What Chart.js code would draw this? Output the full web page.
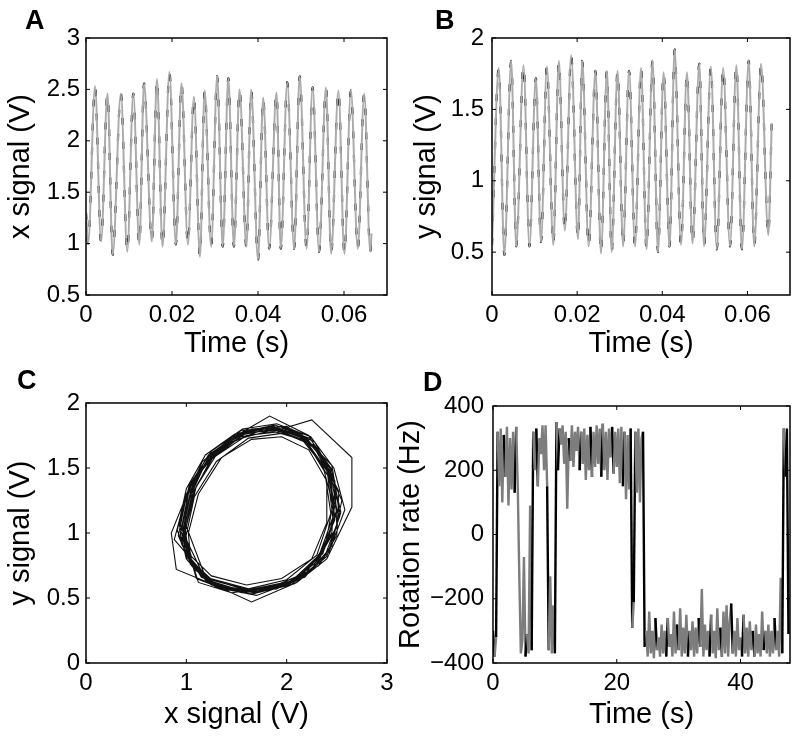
<!DOCTYPE html>
<html>
<head>
<meta charset="utf-8">
<script src="https://cdn.jsdelivr.net/npm/chart.js@4.4.1/dist/chart.umd.min.js"></script>
<style>
  body { margin: 0; background: #fff; }
  #wrap { position: relative; width: 800px; height: 739px; overflow: hidden; }
  canvas { position: absolute; }
  .tag { position: absolute; font: bold 27px "Liberation Sans", Arial, sans-serif; line-height: 27px; color: #000; }
</style>
</head>
<body>
<div id="wrap">
  <canvas id="panelA" width="400" height="365" style="left:0;top:0"></canvas>
  <canvas id="panelB" width="400" height="365" style="left:400px;top:0"></canvas>
  <canvas id="panelC" width="400" height="369" style="left:0;top:370px"></canvas>
  <canvas id="panelD" width="410" height="369" style="left:390px;top:370px"></canvas>
  <div class="tag" style="left:25px;top:7px">A</div>
  <div class="tag" style="left:435px;top:7px">B</div>
  <div class="tag" style="left:17px;top:367px">C</div>
  <div class="tag" style="left:423px;top:369px">D</div>
</div>
<script>
// A: x signal vs time (turning points)
var aTime = [0, 0.0005, 0.0021, 0.0035, 0.0050, 0.0062, 0.0081, 0.0096, 0.0110, 0.0124, 0.0135, 0.0153,
    0.0165, 0.0178, 0.0194, 0.0209, 0.0222, 0.0237, 0.0251, 0.0265, 0.0276, 0.0291, 0.0305, 0.0318,
    0.0331, 0.0344, 0.0357, 0.0373, 0.0384, 0.0400, 0.0412, 0.0426, 0.0443, 0.0453, 0.0468, 0.0484,
    0.0497, 0.0513, 0.0527, 0.0542, 0.0558, 0.0570, 0.0587, 0.0601, 0.0616, 0.0632, 0.0647, 0.0661, 0.0664];
var aValue = [1.30, 1.00, 2.53, 1.02, 2.46, 0.89, 2.46, 0.92, 2.46, 0.99, 2.56, 1.02,
    2.60, 0.97, 2.67, 0.99, 2.56, 0.99, 2.43, 0.87, 2.49, 0.97, 2.63, 0.97,
    2.61, 0.97, 2.50, 0.97, 2.50, 0.84, 2.42, 0.95, 2.47, 0.95, 2.57, 0.95,
    2.63, 0.95, 2.52, 0.92, 2.52, 0.90, 2.49, 0.90, 2.49, 0.95, 2.46, 0.92, 1.10];

// B: y signal vs time
var bTime = [0, 0.0016, 0.0029, 0.0045, 0.0057, 0.0074, 0.0088, 0.0103, 0.0115, 0.0129, 0.0144, 0.0157,
    0.0171, 0.0186, 0.0202, 0.0212, 0.0227, 0.0243, 0.0256, 0.0270, 0.0281, 0.0295, 0.0308, 0.0322,
    0.0336, 0.0350, 0.0363, 0.0377, 0.0390, 0.0403, 0.0417, 0.0429, 0.0444, 0.0458, 0.0471, 0.0487,
    0.0498, 0.0514, 0.0528, 0.0543, 0.0559, 0.0574, 0.0587, 0.0603, 0.0616, 0.0632, 0.0649, 0.0657];
var bValue = [0.55, 1.79, 0.48, 1.84, 0.54, 1.81, 0.54, 1.72, 0.57, 1.80, 0.55, 1.84,
    0.65, 1.88, 0.59, 1.84, 0.54, 1.77, 0.49, 1.77, 0.50, 1.77, 0.54, 1.77,
    0.54, 1.79, 0.52, 1.84, 0.50, 1.76, 0.54, 1.92, 0.55, 1.76, 0.56, 1.82,
    0.54, 1.80, 0.52, 1.79, 0.54, 1.81, 0.52, 1.84, 0.54, 1.82, 0.62, 1.40];

// C: y signal against x signal, one sample trajectory looping round
var loopX = [0.95, 1.03, 1.22, 1.52, 1.83, 2.22, 2.42, 2.48, 2.33, 2.02, 1.65, 1.25,
    0.88, 1.00, 1.20, 1.50, 1.90, 2.20, 2.45, 2.52, 2.35, 2.05, 1.60, 1.18,
    0.98, 1.08, 1.28, 1.60, 1.95, 2.25, 2.65, 2.65, 2.40, 2.10, 1.65, 1.28,
    0.90, 0.85, 1.05, 1.30, 1.62, 1.95, 2.28, 2.48, 2.50, 2.30, 1.98, 1.58, 1.20,
    1.00, 1.10, 1.30, 1.58, 1.88, 2.15, 2.38, 2.55, 2.45, 2.18, 1.75, 1.35, 1.08,
    0.95, 1.02, 1.18, 1.45, 1.78, 2.10, 2.35, 2.50, 2.42, 2.20, 1.85, 1.45, 1.12,
    0.93, 1.06, 1.32, 1.65, 2.00, 2.30, 2.48, 2.45, 2.25, 1.90, 1.52, 1.15,
    0.98, 1.00, 1.15, 1.40, 1.72, 2.05, 2.32, 2.52, 2.50, 2.32, 2.00, 1.60, 1.25, 1.05,
    1.02, 1.12, 1.35, 1.65, 1.95, 2.22, 2.40, 2.40, 2.25, 1.95, 1.60, 1.25, 1.05,
    0.96, 1.04, 1.26, 1.56, 1.90, 2.24, 2.47, 2.58, 2.42, 2.12, 1.70, 1.30, 1.05,
    0.92, 1.00, 1.16, 1.46, 1.82, 2.12, 2.36, 2.46, 2.38, 2.15, 1.80, 1.40, 1.10,
    0.99, 1.08, 1.30, 1.62, 1.98, 2.26, 2.44, 2.48, 2.30, 1.98, 1.55, 1.20, 1.00,
    0.94, 1.02, 1.22, 1.52, 1.86, 2.16, 2.40, 2.50, 2.36, 2.06, 1.66, 1.26, 1.04,
    0.97, 1.06, 1.27, 1.57, 1.92, 2.20, 2.42, 2.47, 2.32, 2.03, 1.63, 1.24, 1.02,
    0.91, 1.00, 1.19, 1.48, 1.84, 2.18, 2.44, 2.54, 2.40, 2.08, 1.68, 1.28, 1.06,
    0.96, 1.05, 1.24, 1.54, 1.88, 2.19, 2.38, 2.44, 2.30, 2.00, 1.62, 1.24, 1.03,
    0.93, 1.03, 1.25, 1.55, 1.91, 2.23, 2.46, 2.53, 2.37, 2.04, 1.64, 1.26, 1.04,
    0.99, 1.07, 1.29, 1.60, 1.93, 2.21, 2.41, 2.46, 2.31, 2.01, 1.60, 1.22, 1.01,
    0.94, 1.04, 1.23, 1.53, 1.87, 2.20, 2.43, 2.50, 2.35, 2.05, 1.67, 1.27, 1.05, 0.97];
var loopY = [1.02, 1.35, 1.60, 1.76, 1.90, 1.75, 1.48, 1.12, 0.80, 0.60, 0.53, 0.62,
    0.95, 1.30, 1.55, 1.72, 1.80, 1.72, 1.52, 1.20, 0.85, 0.63, 0.56, 0.66,
    0.98, 1.33, 1.60, 1.77, 1.80, 1.87, 1.58, 1.20, 0.80, 0.62, 0.47, 0.60,
    0.72, 1.00, 1.38, 1.62, 1.78, 1.82, 1.70, 1.40, 1.05, 0.78, 0.60, 0.55, 0.64,
    1.05, 1.36, 1.63, 1.78, 1.83, 1.76, 1.55, 1.25, 0.90, 0.66, 0.55, 0.57, 0.72,
    0.92, 1.25, 1.52, 1.70, 1.80, 1.78, 1.60, 1.30, 0.95, 0.70, 0.58, 0.54, 0.62,
    1.10, 1.40, 1.65, 1.80, 1.82, 1.65, 1.35, 1.00, 0.72, 0.57, 0.55, 0.66,
    0.88, 1.20, 1.50, 1.68, 1.78, 1.80, 1.62, 1.32, 0.98, 0.75, 0.60, 0.55, 0.60, 0.75,
    1.00, 1.30, 1.58, 1.72, 1.74, 1.64, 1.40, 1.08, 0.80, 0.65, 0.60, 0.67, 0.82,
    1.05, 1.38, 1.64, 1.80, 1.84, 1.74, 1.50, 1.18, 0.85, 0.64, 0.52, 0.58, 0.75,
    0.98, 1.28, 1.55, 1.74, 1.82, 1.75, 1.52, 1.22, 0.88, 0.68, 0.57, 0.56, 0.65,
    0.95, 1.28, 1.55, 1.73, 1.77, 1.68, 1.42, 1.10, 0.78, 0.59, 0.54, 0.63, 0.80,
    1.00, 1.30, 1.58, 1.75, 1.80, 1.72, 1.48, 1.16, 0.84, 0.63, 0.55, 0.61, 0.78,
    1.04, 1.36, 1.62, 1.77, 1.79, 1.70, 1.46, 1.14, 0.82, 0.62, 0.56, 0.64, 0.80,
    1.02, 1.34, 1.60, 1.76, 1.81, 1.74, 1.50, 1.16, 0.82, 0.61, 0.54, 0.59, 0.74,
    0.96, 1.28, 1.56, 1.74, 1.78, 1.71, 1.47, 1.15, 0.83, 0.64, 0.57, 0.65, 0.80,
    1.06, 1.37, 1.63, 1.79, 1.81, 1.73, 1.48, 1.13, 0.80, 0.60, 0.53, 0.60, 0.76,
    1.02, 1.32, 1.59, 1.75, 1.78, 1.69, 1.44, 1.12, 0.80, 0.61, 0.55, 0.62, 0.79,
    0.99, 1.31, 1.59, 1.77, 1.82, 1.73, 1.50, 1.18, 0.84, 0.62, 0.54, 0.60, 0.76, 0.98];

// D: rotation rate (Hz), one reading every 0.25 s from t = 0
var rateStep = 0.25;
var rateValue = [-300, -380, -320, 320, 150, 330, 100, 310, 180, 335, 90, 300,
    140, 320, 130, 335, 150, -130, -370, -330, -70, -380, -310, -370,
    90, -360, 320, 200, 330, 150, 300, 250, 340, 200, 340, 150,
    -360, -130, -370, -220, -370, 350, 200, 330, 280, 340, 220, 320,
    80, 300, 230, 340, 210, 320, 260, 335, 200, 320, 220, 330,
    170, 310, 200, 335, 180, 320, 210, 340, 220, 330, 180, 345,
    200, 320, 170, 330, 240, 335, 190, 320, 210, 330, 160, 335,
    150, 320, 110, 310, 140, 330, -290, -210, 320, 130, 330, 100,
    300, 320, -350, -300, -380, -240, -370, -300, -385, -260, -360, -320,
    -380, -280, -370, -300, -380, -260, -350, -310, -380, -240, -370, -280,
    -360, -230, -380, -290, -370, -250, -380, -300, -360, -270, -380, -290,
    -370, -260, -350, -170, -380, -280, -360, -300, -380, -250, -370, -300,
    -385, -230, -360, -290, -380, -240, -370, -220, -380, -270, -215, -370,
    -300, -380, -260, -360, -320, -380, -250, -370, -290, -380, -270, -360,
    -300, -380, -280, -370, -310, -380, -240, -360, -300, -370, -280, -380,
    -300, -370, -260, -360, -300, -380, -135, -370, 330, 180, 330, -310];

// tick labels
var aTimeTicks = [0, 0.02, 0.04, 0.06];
var aSignalTicks = [0.5, 1, 1.5, 2, 2.5, 3];
var bSignalTicks = [0.5, 1, 1.5, 2];
var cTicksX = [0, 1, 2, 3];
var cTicksY = [0, 0.5, 1, 1.5, 2];
var dTimeTicks = [0, 20, 40];
var dRateTicks = [-400, -200, 0, 200, 400];

var fontFamily = '"Liberation Sans", Arial, sans-serif';

// box round the plot with inward ticks on all four sides, like the original
var boxFrame = {
    id: 'boxFrame',
    afterDraw: function(chart) {
        var ctx = chart.ctx, a = chart.chartArea;
        var xs = chart.scales.x, ys = chart.scales.y;
        ctx.save();
        ctx.strokeStyle = '#000';
        ctx.lineWidth = 1.5;
        ctx.strokeRect(a.left, a.top, a.right - a.left, a.bottom - a.top);
        ctx.lineWidth = 1;
        ctx.beginPath();
        xs.ticks.forEach(function(t) {
            var px = xs.getPixelForValue(t.value);
            ctx.moveTo(px, a.bottom); ctx.lineTo(px, a.bottom - 4);
            ctx.moveTo(px, a.top); ctx.lineTo(px, a.top + 4);
        });
        ys.ticks.forEach(function(t) {
            var py = ys.getPixelForValue(t.value);
            ctx.moveTo(a.left, py); ctx.lineTo(a.left + 4, py);
            ctx.moveTo(a.right, py); ctx.lineTo(a.right - 4, py);
        });
        ctx.stroke();
        ctx.restore();
    }
};

function fmt(v) {
    return String(v).replace('-', '\u2212');
}

function axis(min, max, ticks, title, fitSize, horizontal, titlePad, tickPad) {
    return {
        type: 'linear',
        min: min,
        max: max,
        grid: { display: false, drawTicks: false },
        border: { display: false },
        afterBuildTicks: function(s) { s.ticks = ticks.map(function(v) { return { value: v }; }); },
        afterFit: function(s) { if (horizontal) { s.height = fitSize; } else { s.width = fitSize; } },
        ticks: {
            color: '#000',
            font: { family: fontFamily, size: 24 },
            padding: tickPad,
            maxRotation: 0,
            autoSkip: false,
            callback: function(v) { return fmt(v); }
        },
        title: {
            display: true,
            text: title,
            color: '#000',
            font: { family: fontFamily, size: 29 },
            padding: horizontal ? { top: 0, bottom: titlePad } : { top: titlePad, bottom: 0 }
        }
    };
}

function baseOptions(pad, xAxis, yAxis) {
    return {
        responsive: false,
        animation: false,
        layout: { padding: pad },
        plugins: { legend: { display: false }, tooltip: { enabled: false } },
        scales: { x: xAxis, y: yAxis }
    };
}

function pairs(xs, ys) {
    return xs.map(function(x, i) { return { x: x, y: ys[i] }; });
}

// A
new Chart(document.getElementById('panelA').getContext('2d'), {
    type: 'line',
    data: {
        datasets: [{
            data: pairs(aTime, aValue),
            borderColor: '#ababab', borderWidth: 2, pointRadius: 0, cubicInterpolationMode: 'monotone'
        }, {
            data: pairs(aTime, aValue),
            borderColor: '#000', borderWidth: 2.2, pointRadius: 0, cubicInterpolationMode: 'monotone',
            borderDash: [7, 17]
        }]
    },
    options: baseOptions({ top: 38, right: 13, left: 0, bottom: 0 },
        axis(0, 0.07, aTimeTicks, 'Time (s)', 70, true, 4, 6),
        axis(0.5, 3, aSignalTicks, 'x signal (V)', 86, false, 4, 6)),
    plugins: [boxFrame]
});

// B
new Chart(document.getElementById('panelB').getContext('2d'), {
    type: 'line',
    data: {
        datasets: [{
            data: pairs(bTime, bValue),
            borderColor: '#ababab', borderWidth: 2, pointRadius: 0, cubicInterpolationMode: 'monotone'
        }, {
            data: pairs(bTime, bValue),
            borderColor: '#000', borderWidth: 2.2, pointRadius: 0, cubicInterpolationMode: 'monotone',
            borderDash: [7, 17]
        }]
    },
    options: baseOptions({ top: 38, right: 10, left: 0, bottom: 0 },
        axis(0, 0.07, aTimeTicks, 'Time (s)', 70, true, 4, 6),
        axis(0.2, 2, bSignalTicks, 'y signal (V)', 92, false, 10, 8)),
    plugins: [boxFrame]
});

// C
new Chart(document.getElementById('panelC').getContext('2d'), {
    type: 'line',
    data: {
        datasets: [{
            data: pairs(loopX, loopY),
            borderColor: '#111', borderWidth: 1.1, pointRadius: 0, tension: 0
        }]
    },
    options: baseOptions({ top: 33, right: 13, left: 0, bottom: 0 },
        axis(0, 3, cTicksX, 'x signal (V)', 76, true, 7, 6),
        axis(0, 2, cTicksY, 'y signal (V)', 86, false, 4, 6)),
    plugins: [boxFrame]
});

// D
new Chart(document.getElementById('panelD').getContext('2d'), {
    type: 'line',
    data: {
        datasets: [{
            data: rateValue.map(function(v, i) { return { x: i * rateStep, y: v }; }),
            borderWidth: 2.4, pointRadius: 0, tension: 0,
            borderColor: '#7d7d7d',
            segment: {
                borderColor: function(c) {
                    var jump = Math.abs(c.p1.parsed.y - c.p0.parsed.y);
                    return (jump > 500 || c.p0DataIndex % 7 === 0) ? '#000' : '#7d7d7d';
                }
            }
        }]
    },
    options: baseOptions({ top: 36, right: 10, left: 0, bottom: 0 },
        axis(0, 48, dTimeTicks, 'Time (s)', 76, true, 7, 6),
        axis(-400, 400, dRateTicks, 'Rotation rate (Hz)', 103, false, 4, 9)),
    plugins: [boxFrame]
});
</script>
</body>
</html>
